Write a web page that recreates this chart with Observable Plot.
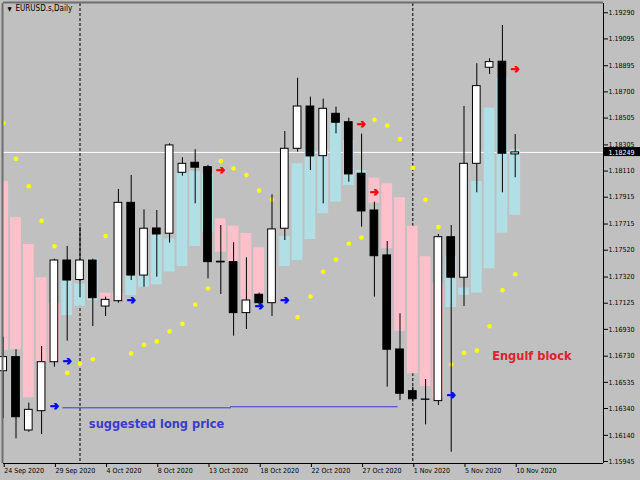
<!DOCTYPE html>
<html>
<head>
<meta charset="utf-8">
<script src="https://cdn.jsdelivr.net/npm/d3@7"></script>
<script src="https://cdn.jsdelivr.net/npm/@observablehq/plot@0.6"></script>
<style>
  html, body { margin: 0; padding: 0; background: #c0c0c0; }
  #chart { width: 640px; height: 480px; overflow: hidden; }
  #chart svg { display: block; font-family: 'DejaVu Sans Condensed', 'DejaVu Sans', sans-serif !important; font-stretch: condensed; }
</style>
</head>
<body>
<div id="chart"></div>
<script>
// ---- data (EURUSD.s, Daily) ----
const dates = ["24 Sep","25 Sep","27 Sep","28 Sep","29 Sep","30 Sep","1 Oct","2 Oct","4 Oct","5 Oct","6 Oct","7 Oct","8 Oct","9 Oct",
  "11 Oct","12 Oct","13 Oct","14 Oct","15 Oct","16 Oct","18 Oct","19 Oct","20 Oct","21 Oct","22 Oct","23 Oct",
  "25 Oct","26 Oct","27 Oct","28 Oct","29 Oct","30 Oct","1 Nov","2 Nov","3 Nov","4 Nov","5 Nov","6 Nov","8 Nov","9 Nov","10 Nov"];
const open  = [1.16618,1.16723,1.16176,1.16320,1.16685,1.17443,1.17298,1.17443,1.17100,1.17140,1.17873,1.17331,1.17682,1.17643,
  1.18097,1.18172,1.18139,1.17434,1.17431,1.17051,1.17188,1.17125,1.17680,1.18276,1.18591,1.18221,1.18537,1.18474,1.18090,
  1.17816,1.17481,1.16780,1.16469,1.16407,1.16395,1.17617,1.17315,1.18164,1.18880,1.18925,1.18234];
const high  = [1.16872,1.16778,1.16380,1.16802,1.17453,1.17548,1.17692,1.17453,1.17170,1.17973,1.18077,1.17821,1.17816,1.18313,
  1.18209,1.18269,1.18152,1.17704,1.17576,1.17463,1.17200,1.17933,1.18405,1.18802,1.18661,1.18646,1.18586,1.18504,1.18385,
  1.17878,1.17585,1.17046,1.16499,1.16556,1.17637,1.17704,1.18591,1.18910,1.18947,1.19195,1.18382];
const low   = [1.16263,1.16114,1.16163,1.16146,1.16648,1.16842,1.17165,1.16951,1.17026,1.17125,1.17294,1.17244,1.17319,1.17573,
  1.18072,1.17866,1.17307,1.17190,1.16879,1.16929,1.17108,1.17026,1.17592,1.18251,1.18114,1.17866,1.18388,1.18027,1.17692,
  1.17170,1.16499,1.16400,1.16387,1.16218,1.16362,1.16014,1.17100,1.17948,1.18830,1.17948,1.18060];
const close = [1.16723,1.16275,1.16330,1.16685,1.17443,1.17294,1.17443,1.17162,1.17150,1.17873,1.17331,1.17680,1.17637,1.18301,
  1.18164,1.18135,1.17431,1.17429,1.17051,1.17145,1.17125,1.17675,1.18276,1.18591,1.18219,1.18574,1.18470,1.18085,1.17809,
  1.17475,1.16778,1.16450,1.16409,1.16405,1.17617,1.17315,1.18164,1.18743,1.18922,1.18239,1.18249];

// Parabolic SAR dots
const sarBar   = [0,1,2,3,4,5,6,7,8,10,11,12,13,14,15,16,17,18,19,20,21,23,24,25,26,27,28,29,30,31,32,33,34,35,36,37,38,39,40];
const sarPrice = [1.18467,1.18202,1.17997,1.17740,1.17550,1.16606,1.16673,1.16707,1.17625,1.16750,1.16815,1.16840,1.16914,1.16971,
  1.17115,1.17235,1.18184,1.18129,1.18080,1.17965,1.17896,1.17021,1.17175,1.17359,1.17449,1.17568,1.17615,1.18492,1.18450,
  1.18348,1.18135,1.17896,1.17692,1.16668,1.16755,1.16772,1.16953,1.17222,1.17341];

// Engulf blocks (bear = pink, bull = light blue)
const blockBar    = [0,1,2,3,4,8,9,17,18,19,20,29,30,31,32,33,34, 5,6,7,10,11,12,13,14,15,16,22,23,24,25,26,27,28,35,36,37,38,39,40];
const blockTop    = [1.18032,1.17764,1.17563,1.17315,1.17121,1.17200,1.17200,1.17754,1.17699,1.17645,1.17538,1.18057,1.18015,1.17911,1.17699,1.17471,1.17270,
  1.17294,1.17270,1.17453,1.17331,1.17331,1.17637,1.17605,1.18097,1.18107,1.18090,1.17622,1.18164,1.18263,1.18263,1.18470,1.18338,1.18114,1.17471,1.17237,1.18032,1.18579,1.18808,1.18268];
const blockBottom = [1.16772,1.16778,1.16420,1.16685,1.16685,1.17150,1.17145,1.17505,1.17431,1.17145,1.17188,1.17871,1.17531,1.16914,1.16599,1.16504,1.16415,
  1.17033,1.17102,1.17145,1.17182,1.17244,1.17262,1.17357,1.17398,1.17548,1.17653,1.17398,1.17443,1.17600,1.17791,1.17878,1.18002,1.18090,1.17093,1.17182,1.17200,1.17382,1.17647,1.17781];
const blockKind   = Array(17).fill("bear").concat(Array(23).fill("bull"));

// Arrows
const arrowBar   = [4,5,10,20,22,35,17,28,29,40];
const arrowPrice = [1.16360,1.16693,1.17145,1.17100,1.17145,1.16437,1.18114,1.18459,1.17950,1.18870];
const arrowSide  = ["buy","buy","buy","buy","buy","buy","sell","sell","sell","sell"];

// Suggested long price line (two segments)
const longBar   = [4.66,17.76,17.76,30.78];
const longPrice = [1.16345,1.16345,1.16353,1.16353];
const longSeg   = [0,0,1,1];

// Month separators
const separatorBars = [6, 32];

// Axis ticks
const yTicks = [1.19290,1.19095,1.18895,1.18700,1.18505,1.18305,1.18110,1.17915,1.17715,1.17520,1.17320,1.17125,1.16930,1.16730,1.16535,1.16340,1.16140,1.15945];
const xTickBars = [0,4,8,12,16,20,24,28,32,36,40];
const xTickLabels = ["24 Sep 2020","29 Sep 2020","4 Oct 2020","8 Oct 2020","13 Oct 2020","18 Oct 2020","22 Oct 2020","27 Oct 2020","1 Nov 2020","5 Nov 2020","10 Nov 2020"];

// Annotations
const noteText  = ["suggested long price","Engulf block"];
const noteBar   = [6.69, 38.2];
const notePrice = [1.16226, 1.16735];
const noteColor = ["#3b3bcf", "#e3202b"];

// ---- build ----
const candles = open.map((o, i) => ({i, date: dates[i], o, h: high[i], l: low[i], c: close[i]}));
const sar = sarBar.map((b, k) => ({i: b, p: sarPrice[k]}));
const blocks = blockBar.map((b, k) => ({i: b, top: blockTop[k], bottom: blockBottom[k], kind: blockKind[k]}));
const arrows = arrowBar.map((b, k) => ({i: b, p: arrowPrice[k], side: arrowSide[k]}));
const longLine = longBar.map((b, k) => ({i: b, p: longPrice[k], seg: longSeg[k]}));
const notes = noteText.map((t, k) => ({t, i: noteBar[k], p: notePrice[k], color: noteColor[k]}));
const lastClose = close[close.length - 1];

const xDomain = [0.0234, 46.898];
const yDomain = [1.15930, 1.19359];
const fmt5 = d3.format(".5f");

const chart = Plot.plot({
  width: 640, height: 480,
  marginLeft: 3, marginRight: 37, marginTop: 3, marginBottom: 17,
  style: "background:#c0c0c0; color:#000; overflow:visible;",
  x: {type: "linear", domain: xDomain, axis: null, label: null},
  y: {type: "linear", domain: yDomain, axis: null, label: null},
  color: {type: "identity"},
  marks: [
    Plot.ruleY([lastClose], {stroke: "#ffffff", strokeWidth: 1}),
    Plot.ruleX(separatorBars, {stroke: "#000", strokeDasharray: "3,2", strokeWidth: 1}),
    Plot.rect(blocks, {x1: d => d.i - 0.42, x2: d => d.i + 0.42, y1: "bottom", y2: "top",
      fill: d => d.kind === "bear" ? "#ffc0cb" : "#b0e0e6", clip: true}),
    Plot.dot(sar, {x: "i", y: "p", r: 2.3, fill: "#ffff00", stroke: null, clip: true}),
    Plot.line(longLine, {x: "i", y: "p", z: "seg", stroke: "#3b3bd8", strokeWidth: 1}),
    Plot.ruleX(candles, {x: "i", y1: "l", y2: "h", stroke: "#000", strokeWidth: 1}),
    Plot.rect(candles, {x1: d => d.i - 0.3, x2: d => d.i + 0.3, y1: "o", y2: "c",
      fill: d => d.c >= d.o ? "#ffffff" : "#000000", stroke: "#000", strokeWidth: 1}),
    Plot.text(arrows, {x: "i", y: "p", text: () => "\u2794", fontSize: 12, fontWeight: "bold",
      fill: d => d.side === "buy" ? "#0000ff" : "#ff0000",
      stroke: d => d.side === "buy" ? "#0000ff" : "#ff0000", strokeWidth: 0.8}),
    Plot.text(notes, {x: "i", y: "p", text: "t", fill: "color", textAnchor: "start",
      fontSize: 12.7, fontWeight: "bold"}),
    // frame borders
    Plot.ruleX([xDomain[0]], {stroke: "#6e6e6e", strokeWidth: 2, dx: -1, y1: yDomain[0], y2: yDomain[1]}),
    Plot.ruleY([yDomain[1]], {stroke: "#6e6e6e", strokeWidth: 2, dy: -1}),
    Plot.ruleX([xDomain[1]], {stroke: "#000", strokeWidth: 1}),
    Plot.ruleY([yDomain[0]], {stroke: "#000", strokeWidth: 1}),
    // axes
    Plot.axisY(yTicks, {anchor: "right", label: null, tickSize: 4, tickPadding: 1, tickFormat: fmt5,
      fontSize: 7, fill: "#000", stroke: "#000"}),
    Plot.axisX(xTickBars, {anchor: "bottom", label: null, tickSize: 4, tickPadding: 1,
      tickFormat: (d) => xTickLabels[xTickBars.indexOf(d)], textAnchor: "start", dx: 1,
      fontSize: 7, fill: "#000", stroke: "#000"}),
    // current price label
    Plot.rect([lastClose], {x1: () => xDomain[1] + 0.05, x2: () => xDomain[1] + 3.0,
      y1: d => d - 0.00031, y2: d => d + 0.00036, fill: "#000"}),
    Plot.text([lastClose], {x: () => xDomain[1], y: d => d, text: d => fmt5(d), dx: 5,
      textAnchor: "start", fontSize: 7, fill: "#ffffff"}),
    // title
    Plot.text(["\u25BC"], {frameAnchor: "top-left", dx: 4, dy: 3, textAnchor: "start", lineAnchor: "top",
      fontSize: 6, fill: "#000"}),
    Plot.text(["EURUSD.s,Daily"], {frameAnchor: "top-left", dx: 12, dy: 2, textAnchor: "start", lineAnchor: "top",
      fontSize: 8, fill: "#000"})
  ]
});
document.getElementById("chart").appendChild(chart);
</script>
</body>
</html>
